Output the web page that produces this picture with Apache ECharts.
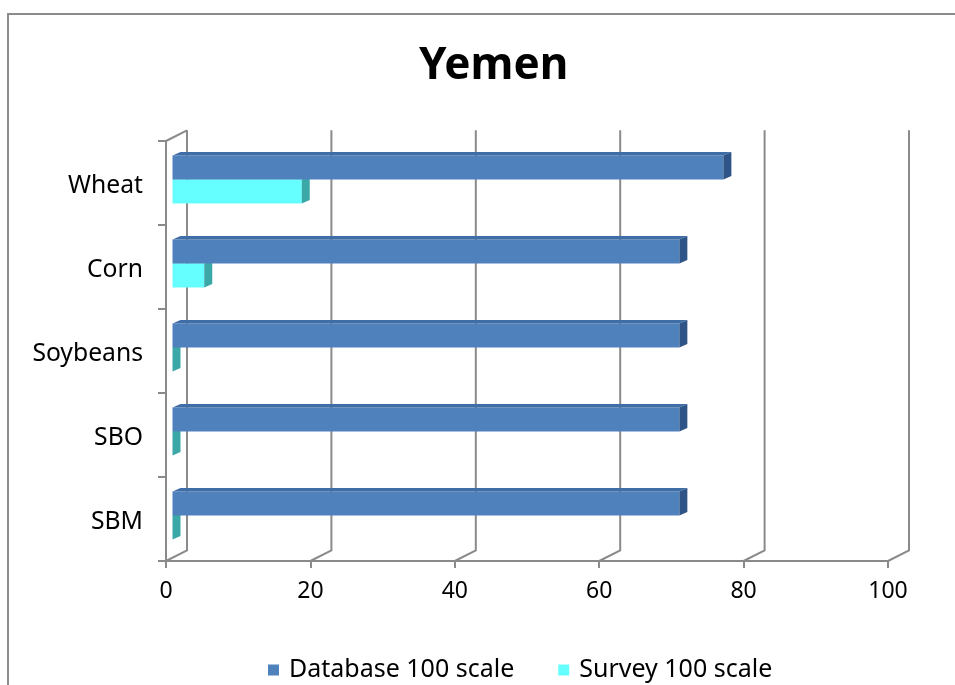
<!DOCTYPE html>
<html>
<head>
<meta charset="utf-8">
<script src="https://cdn.jsdelivr.net/npm/echarts@6/dist/echarts.min.js"></script>
<style>html,body{margin:0;padding:0;background:#fff;}#chart{width:955px;height:685px;}</style>
</head>
<body>
<div id="chart"></div>
<script>
const categories = ['Wheat', 'Corn', 'Soybeans', 'SBO', 'SBM'];
const databaseValues = [76.3, 70.2, 70.2, 70.2, 70.2];
const surveyValues = [17.9, 4.4, 0, 0, 0];
const xTicks = [0, 20, 40, 60, 80, 100];
const seriesNames = ['Database 100 scale', 'Survey 100 scale'];

const FONT = "'Noto Sans', 'DejaVu Sans', sans-serif";
const GRID_COLOR = '#8a8a8a';
const WALL_DX = 21, WALL_DY = -10.7;
const BAR_DX = 6.5, BAR_DY = -3.5;
const DEPTH_DX = 8, DEPTH_DY = -3.5;

function makeBarRenderer(position, front, top, side) {
  return function (params, api) {
    const v = api.value(0);
    const cat = api.value(1);
    const base = api.coord([0, cat]);
    const end = api.coord([v, cat]);
    const band = api.size([0, 1])[1];
    const barH = band * 0.285;
    const yc = base[1] + BAR_DY;
    const y0 = position === 0 ? yc - barH : yc;
    const y1 = y0 + barH;
    const xs = base[0] + BAR_DX;
    const xe = end[0] + BAR_DX;
    return {
      type: 'group',
      children: [
        { type: 'rect', shape: { x: xs, y: y0, width: Math.max(0, xe - xs), height: barH }, style: { fill: front } },
        { type: 'polygon', shape: { points: [[xs, y0], [xe, y0], [xe + DEPTH_DX, y0 + DEPTH_DY], [xs + DEPTH_DX, y0 + DEPTH_DY]] }, style: { fill: top } },
        { type: 'polygon', shape: { points: [[xe, y0], [xe + DEPTH_DX, y0 + DEPTH_DY], [xe + DEPTH_DX, y1 + DEPTH_DY], [xe, y1]] }, style: { fill: side } }
      ]
    };
  };
}

function frameRenderer(params, api) {
  const v = api.value(0);
  const p = api.coord([v, 0]);
  const cs = params.coordSys;
  const x = p[0];
  const topY = cs.y, bottomY = cs.y + cs.height;
  const children = [
    { type: 'polyline', shape: { points: [[x, bottomY], [x + WALL_DX, bottomY + WALL_DY], [x + WALL_DX, topY + WALL_DY]] },
      style: { stroke: GRID_COLOR, lineWidth: 2, fill: null } }
  ];
  if (v === 0) {
    children.push({ type: 'line', shape: { x1: x, y1: topY, x2: x + WALL_DX, y2: topY + WALL_DY },
      style: { stroke: GRID_COLOR, lineWidth: 2 } });
  }
  return { type: 'group', children: children };
}

const chart = echarts.init(document.getElementById('chart'));
chart.setOption({
  backgroundColor: '#ffffff',
  animation: false,
  title: {
    text: 'Yemen',
    left: 414,
    top: 38,
    textStyle: { fontFamily: FONT, fontSize: 44, fontWeight: 'bold', color: '#000', lineHeight: 46 }
  },
  graphic: [
    { type: 'rect', shape: { x: 8, y: 14, width: 1000, height: 720 }, style: { fill: null, stroke: '#8c8c8c', lineWidth: 2 }, silent: true, z: -10 }
  ],
  legend: {
    data: seriesNames,
    left: 263,
    top: 652,
    itemWidth: 11,
    itemHeight: 11,
    itemGap: 44,
    icon: 'rect',
    textStyle: { fontFamily: FONT, fontSize: 25, color: '#000', lineHeight: 26, padding: [0, 0, 0, 5] }
  },
  grid: { left: 166, right: 67, top: 141, bottom: 124 },
  xAxis: {
    type: 'value',
    min: 0, max: 100, interval: 20,
    axisLine: { show: true, lineStyle: { color: GRID_COLOR, width: 2 } },
    axisTick: { show: true, length: 7, lineStyle: { color: GRID_COLOR, width: 2 } },
    splitLine: { show: false },
    axisLabel: { fontFamily: FONT, fontSize: 23, color: '#000', margin: 19 }
  },
  yAxis: {
    type: 'category',
    data: categories,
    inverse: true,
    axisLine: { show: true, lineStyle: { color: GRID_COLOR, width: 2 } },
    axisTick: { show: true, length: 8, lineStyle: { color: GRID_COLOR, width: 2 } },
    splitLine: { show: false },
    axisLabel: {
      fontFamily: FONT, fontSize: 24.7, color: '#000', margin: 23,
      formatter: function (v) { return '{c|' + v + '}'; },
      rich: { c: { fontFamily: FONT, fontSize: 24.7, color: '#000', padding: [6, 0, 0, 0] } }
    }
  },
  series: [
    {
      name: 'frame',
      type: 'custom',
      renderItem: frameRenderer,
      data: xTicks.map(v => [v, 0]),
      encode: { x: 0, y: 1 },
      clip: false,
      silent: true,
      z: 1
    },
    {
      name: seriesNames[1],
      type: 'custom',
      renderItem: makeBarRenderer(1, '#66FFFF', '#55E6E6', '#3BA7A7'),
      itemStyle: { color: '#66FFFF' },
      data: surveyValues.map((v, i) => [v, i]),
      encode: { x: 0, y: 1 },
      clip: false,
      z: 2
    },
    {
      name: seriesNames[0],
      type: 'custom',
      renderItem: makeBarRenderer(0, '#4F81BD', '#3F6DA6', '#2F5487'),
      itemStyle: { color: '#4F81BD' },
      data: databaseValues.map((v, i) => [v, i]),
      encode: { x: 0, y: 1 },
      clip: false,
      z: 3
    }
  ]
});
</script>
</body>
</html>
